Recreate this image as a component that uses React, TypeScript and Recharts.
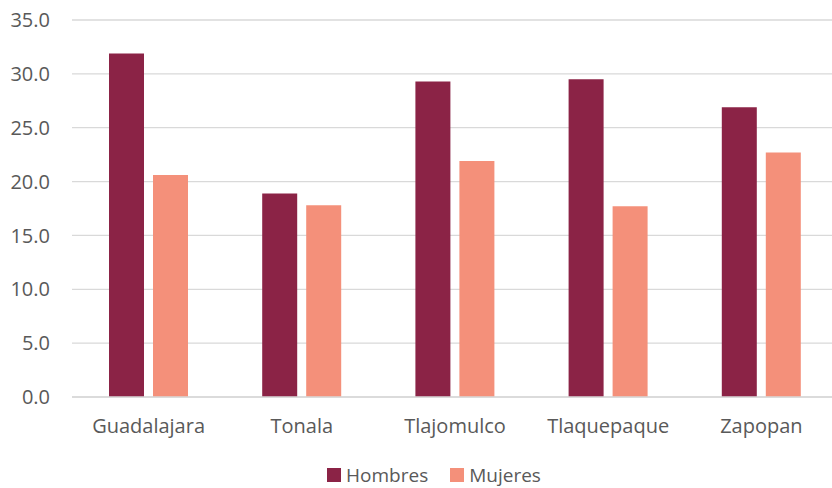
import React from 'react'
import { BarChart, Bar, XAxis, YAxis, CartesianGrid, Legend } from 'recharts'

const municipios = ['Guadalajara', 'Tonala', 'Tlajomulco', 'Tlaquepaque', 'Zapopan']
const hombres = [31.9, 18.9, 29.3, 29.5, 26.9]
const mujeres = [20.6, 17.8, 21.9, 17.7, 22.7]
const yTicks = [0, 5, 10, 15, 20, 25, 30, 35]

const data = municipios.map((name, i) => ({
  name,
  Hombres: hombres[i],
  Mujeres: mujeres[i],
}))

const FONT = 'Open Sans, sans-serif'
const TEXT = '#595959'
const COLORS: Record<string, string> = { Hombres: '#8b2346', Mujeres: '#f4907a' }

// legend row: square swatch + label, centred over a fixed-width box
const renderLegend = () => (
  <div
    style={{
      width: 832,
      height: 20,
      display: 'flex',
      justifyContent: 'center',
      alignItems: 'center',
      fontFamily: FONT,
      fontSize: 19,
      color: TEXT,
      lineHeight: '20px',
    }}
  >
    {Object.keys(COLORS).map((key, i) => (
      <span
        key={key}
        style={{ display: 'flex', alignItems: 'center', marginLeft: i ? 22 : 0 }}
      >
        <span
          style={{
            width: 14,
            height: 14,
            background: COLORS[key],
            display: 'inline-block',
            marginRight: 5,
          }}
        />
        {key}
      </span>
    ))}
  </div>
)

export default function App() {
  return (
    <div
      style={{
        position: 'absolute',
        left: 0,
        top: 0,
        width: 832,
        height: 488,
        overflow: 'hidden',
        background: '#fff',
      }}
    >
      <BarChart
        width={840}
        height={488}
        data={data}
        margin={{ top: 20, right: 2, left: 0, bottom: 0 }}
        barSize={35}
        barGap={9}
      >
        <CartesianGrid vertical={false} stroke="#d9d9d9" strokeWidth={1.3} />
        <XAxis
          dataKey="name"
          height={56}
          axisLine={{ stroke: '#d9d9d9', strokeWidth: 1.3 }}
          tickLine={false}
          tickMargin={16}
          tick={{ fill: TEXT, fontSize: 20, fontFamily: FONT }}
        />
        <YAxis
          width={72}
          domain={[0, 35]}
          ticks={yTicks}
          tickFormatter={(v: number) => v.toFixed(1)}
          axisLine={false}
          tickLine={false}
          tickMargin={16}
          tick={{ fill: TEXT, fontSize: 20, fontFamily: FONT }}
        />
        <Legend
          height={35}
          content={renderLegend}
          wrapperStyle={{ left: 18, top: 465, width: 832 }}
        />
        <Bar dataKey="Hombres" fill={COLORS.Hombres} isAnimationActive={false} />
        <Bar dataKey="Mujeres" fill={COLORS.Mujeres} isAnimationActive={false} />
      </BarChart>
    </div>
  )
}
